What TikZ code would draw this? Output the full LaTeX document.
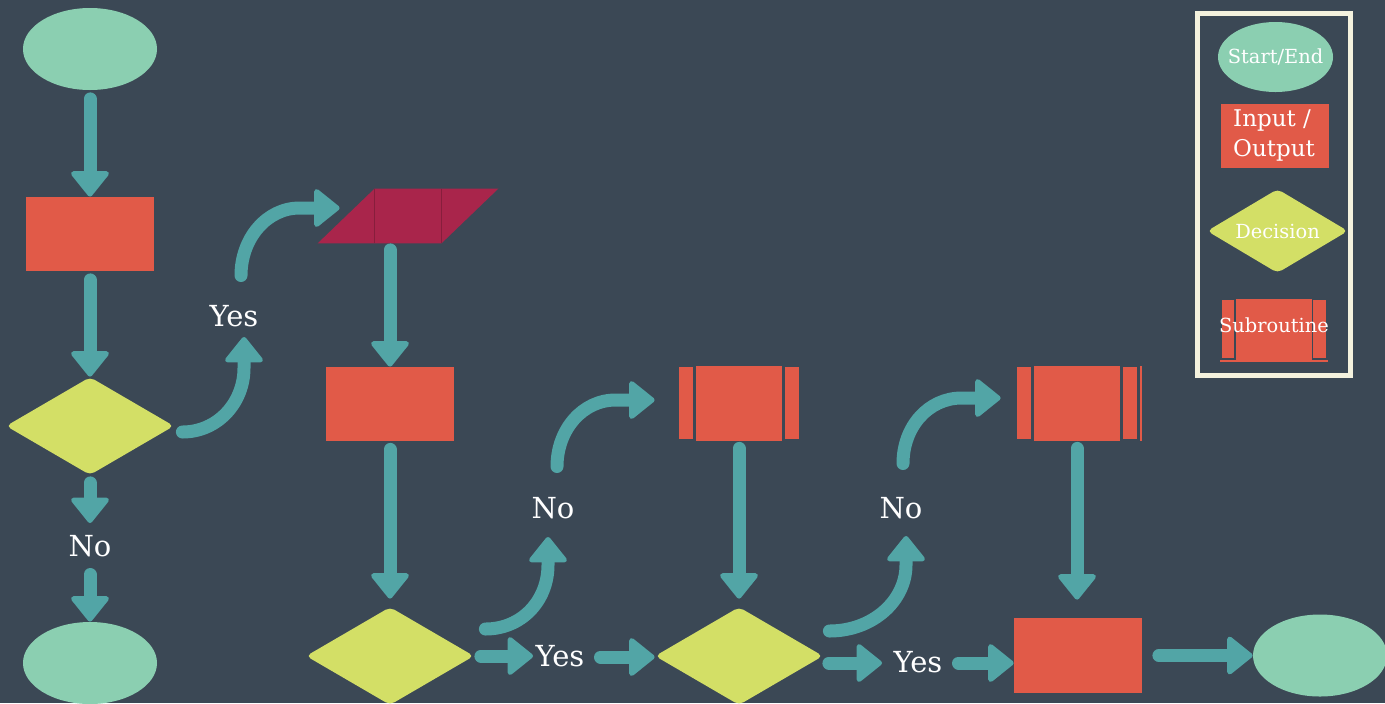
\documentclass[tikz,border=0pt]{standalone}
\usepackage{fontspec}
\setmainfont{DejaVu Serif}
\usetikzlibrary{shapes.geometric,arrows.meta,calc}
\definecolor{cbg}{HTML}{3B4855}
\definecolor{cteal}{HTML}{52A5A6}
\definecolor{cmint}{HTML}{8BCFB1}
\definecolor{cred}{HTML}{E15A48}
\definecolor{ccrim}{HTML}{A9254B}
\definecolor{cyel}{HTML}{D3DF66}
\definecolor{ccream}{HTML}{F4F2DE}
\begin{document}
\begin{tikzpicture}[x=0.5pt,y=-0.5pt,
  startend/.style={ellipse, fill=cmint, inner sep=0pt, minimum width=67pt, minimum height=41pt},
  iobox/.style={rectangle, fill=cred, inner sep=0pt, minimum width=64pt, minimum height=37pt},
  decide/.style={diamond, fill=cyel, inner sep=0pt, minimum width=84pt, minimum height=49pt, rounded corners=2.5pt},
  subbox/.style={rectangle, fill=cred, inner sep=0pt, minimum width=43pt, minimum height=37.5pt},
  subbar/.style={rectangle, fill=cred, inner sep=0pt, minimum width=7pt, minimum height=36pt},
  lbl/.style={text=white, font=\fontsize{14.5}{17}\selectfont, inner sep=0pt},
  lgtext/.style={text=white, font=\fontsize{9.7}{12}\selectfont, inner sep=0pt},
  arr/.style={draw=cteal, line width=6.5pt, line cap=round, -{Triangle[length=13.5pt,width=21pt,line width=2.5pt,round]}}
]
\fill[cbg] (0,0) rectangle (1385,703);
\useasboundingbox (0,0) rectangle (1385,703);

% left column
\node[startend] (e1) at (90,49) {};
\node[iobox] (r1) at (90,234) {};
\node[decide] (d1) at (90,426) {};
\node[lbl] (no1) at (90,546) {No};
\node[startend] (e2) at (90,663) {};
\node[lbl] (yes1) at (234,316) {Yes};

% parallelogram
\node[inner sep=0pt, minimum width=33pt, minimum height=27pt] (p1) at (408,216) {};
\fill[ccrim] ($(p1.south west)+(-57,0)$) -- ($(p1.north west)$) -- ($(p1.north east)+(57,0)$) -- (p1.south east) -- cycle;
\draw[ccrim!80!black, line width=0.3pt] (p1.north west) -- (p1.south west) (p1.north east) -- (p1.south east);

\node[iobox] (r2) at (390,404) {};
\node[decide] (d2) at (390,656) {};
\node[lbl] (no2) at (553,508) {No};
\node[lbl] (yes2) at (560,656) {Yes};

% subroutine 1
\node[subbox] (s1) at (739,403.5) {};
\node[subbar] (s1l) at (686,403) {};
\node[subbar] (s1r) at (792,403) {};

\node[decide] (d3) at (739,656) {};
\node[lbl] (no3) at (901,508) {No};
\node[lbl] (yes3) at (918,662) {Yes};

% subroutine 2
\node[subbox] (s2) at (1077,403.5) {};
\node[subbar] (s2l) at (1024,403) {};
\node[subbar] (s2r) at (1130,403) {};
\fill[cred] (1140,366) rectangle (1142,441);

\node[iobox, minimum height=37.5pt] (r3) at (1078,655.5) {};
\node[startend] (e3) at (1320,655.5) {};

% connectors
\draw[arr] ([yshift=-4.25pt]e1.south) -- (r1.north);
\draw[arr] ([yshift=-4.25pt]r1.south) -- (d1.north);
\draw[arr] ([yshift=-3.75pt]d1.south) -- ($(no1)+(0,-23)$);
\draw[arr] ($(no1)+(0,28.5)$) -- (e2.north);
\draw[arr] ($(d1.east)+(8,6)$) .. controls +(35,0) and +(0,35) .. ($(yes1)+(10,52)$) -- ($(yes1)+(10,21)$);
\draw[arr] ($(yes1)+(7,-40.5)$) .. controls +(0,-37) and +(-33,0) .. ($(p1.west)+(-75,-8)$) -- ($(p1.west)+(-35,-8)$);
\draw[arr] ($(p1.south -| r2.north)+(0,6.5)$) -- (r2.north);
\draw[arr] ([yshift=-4pt]r2.south) -- ($(d2.north)+(0,-8)$);
\draw[arr] ($(d2.east)+(11,-27)$) .. controls +(36,0) and +(0,36) .. ($(no2)+(-5,57)$) -- ($(no2)+(-5,29)$);
\draw[arr] ($(no2)+(4,-41.5)$) .. controls +(0,-37) and +(-33,0) .. ($(s1l.west)+(-63,-3)$) -- ($(s1l.west)+(-24,-3)$);
\draw[arr] ($(d2.east)+(6.5,0)$) -- ($(yes2)+(-27,0)$);
\draw[arr] ($(yes2)+(40.5,1)$) -- ($(d3.west)+(0,1)$);
\draw[arr] ($(s1.south)+(0,7)$) -- ($(s1.south |- d3.north)+(0,-8)$);
\draw[arr] ($(d3.east)+(6,-25)$) .. controls +(43,0) and +(0,36) .. ($(no3)+(5,57)$) -- ($(no3)+(5,28)$);
\draw[arr] ($(no3)+(2,-44.5)$) .. controls +(0,-37) and +(-33,0) .. ($(s2l.west)+(-55,-5)$) -- ($(s2l.west)+(-16,-5)$);
\draw[arr] ($(d3.east)+(5.5,7)$) -- ($(yes3)+(-36,1)$);
\draw[arr] ($(yes3)+(40.5,1)$) -- ($(r3.west)+(0,7.5)$);
\draw[arr] ($(s2.south)+(0,7)$) -- ($(s2.south |- r3.north)+(0,-18)$);
\draw[arr] ($(r3.east)+(16.5,0)$) -- (e3.west);

% legend
\draw[ccream, line width=2.5pt] (1197.5,13.5) rectangle (1350.5,375.5);
\node[ellipse, fill=cmint, inner sep=0pt, minimum width=57.5pt, minimum height=35pt,
  label={[lgtext]center:Start/End}] (le) at (1275.5,57) {};
\node[rectangle, fill=cred, inner sep=0pt, minimum width=54pt, minimum height=32pt] (lr) at (1275,136) {};
\node[text=white, font=\fontsize{11.5}{15}\selectfont, inner sep=0pt, align=left] (lrt) at (1274,136) {Input /\\Output};
\node[diamond, fill=cyel, inner sep=0pt, minimum width=70.5pt, minimum height=42pt, rounded corners=2.5pt,
  label={[lgtext]center:Decision}] (ld) at (1277.5,231) {};
\node[rectangle, fill=cred, inner sep=0pt, minimum width=38pt, minimum height=31.5pt] (ls) at (1274,330.5) {};
\node[subbar, minimum width=6pt, minimum height=29pt] (lsl) at (1228,329) {};
\node[subbar, minimum width=6.5pt, minimum height=29pt] (lsr) at (1319.5,329) {};
\draw[cred, line width=1pt] (1220,361) -- (1328,361);
\node[lgtext] (lst) at (1274,325) {Subroutine};
\end{tikzpicture}
\end{document}
